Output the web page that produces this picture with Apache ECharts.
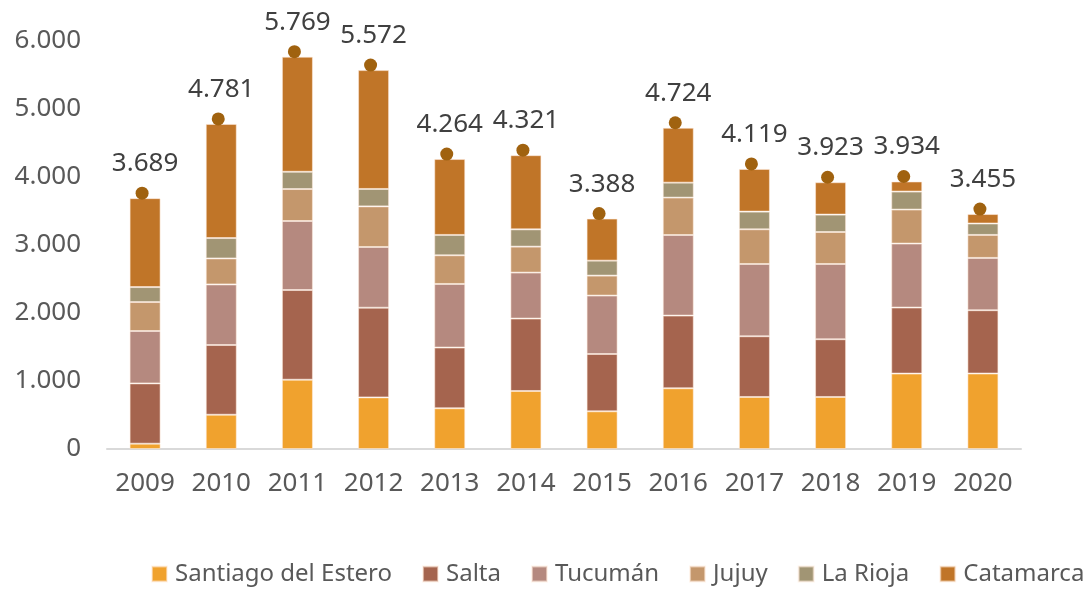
<!DOCTYPE html>
<html><head><meta charset="utf-8">
<script src="https://cdn.jsdelivr.net/npm/echarts@6/dist/echarts.min.js"></script>
<style>html,body{margin:0;padding:0;background:#fff}#c{width:1089px;height:593px}</style>
</head><body><div id="c"></div>
<script>
const years = ['2009','2010','2011','2012','2013','2014','2015','2016','2017','2018','2019','2020'];
const santiago = [78, 504, 1019, 759, 599, 853, 554, 893, 765, 765, 1109, 1110];
const salta    = [887, 1025, 1319, 1319, 893, 1065, 843, 1069, 893, 849, 971, 931];
const tucuman  = [770, 891, 1015, 893, 935, 676, 859, 1185, 1063, 1107, 941, 769];
const jujuy    = [426, 382, 470, 597, 422, 382, 294, 550, 510, 470, 500, 338];
const larioja  = [220, 300, 254, 256, 299, 254, 220, 220, 260, 256, 265, 168];
const catamarca= [1308, 1679, 1692, 1748, 1116, 1091, 618, 807, 628, 476, 148, 139];
const totals   = [3689, 4781, 5769, 5572, 4264, 4321, 3388, 4724, 4119, 3923, 3934, 3455];
const names = ['Santiago del Estero','Salta','Tucumán','Jujuy','La Rioja','Catamarca'];
const colors = ['#F0A22E','#A5644E','#B5897F','#C4976C','#A19574','#C07528'];

const fmt = v => String(Math.round(v)).replace(/\B(?=(\d{3})+(?!\d))/g, '.');
const FONT = 'Noto Sans';
const chart = echarts.init(document.getElementById('c'));
const seriesData = [santiago, salta, tucuman, jujuy, larioja, catamarca];
const series = seriesData.map((d, i) => ({
  name: names[i], type: 'bar', stack: 'total', data: d, barWidth: 31,
  itemStyle: { color: colors[i], borderColor: 'rgba(255,235,220,0.55)', borderWidth: 1 }
}));
series.push({
  name: 'Total', type: 'scatter', data: totals, symbol: 'circle', symbolSize: 13,
  symbolOffset: [-3, -5], itemStyle: { color: '#A0620F', opacity: 1 }, z: 5,
  label: { show: true, position: 'top', distance: 8, offset: [3, -2], formatter: p => fmt(p.value),
    fontFamily: FONT, fontSize: 26, color: '#404040' }
});
chart.setOption({
  animation: false,
  textStyle: { fontFamily: FONT },
  grid: { left: 107, right: 68, top: 41, bottom: 144 },
  legend: {
    data: names, bottom: 2, left: 146, width: 945, itemWidth: 15, itemHeight: 15, itemGap: 30,
    icon: 'rect',
    textStyle: { fontFamily: FONT, fontSize: 24, color: '#595959', padding: [0,0,0,3] }
  },
  xAxis: {
    type: 'category', data: years,
    axisLine: { lineStyle: { color: '#D9D9D9', width: 2 } },
    axisTick: { show: false },
    axisLabel: { interval: 0, fontFamily: FONT, fontSize: 26, color: '#595959', margin: 22 }
  },
  yAxis: {
    type: 'value', min: 0, max: 6000, interval: 1000,
    splitLine: { show: false }, axisLine: { show: false }, axisTick: { show: false },
    axisLabel: { fontFamily: FONT, fontSize: 26, color: '#595959', margin: 26, formatter: fmt }
  },
  series: series
});
</script></body></html>
